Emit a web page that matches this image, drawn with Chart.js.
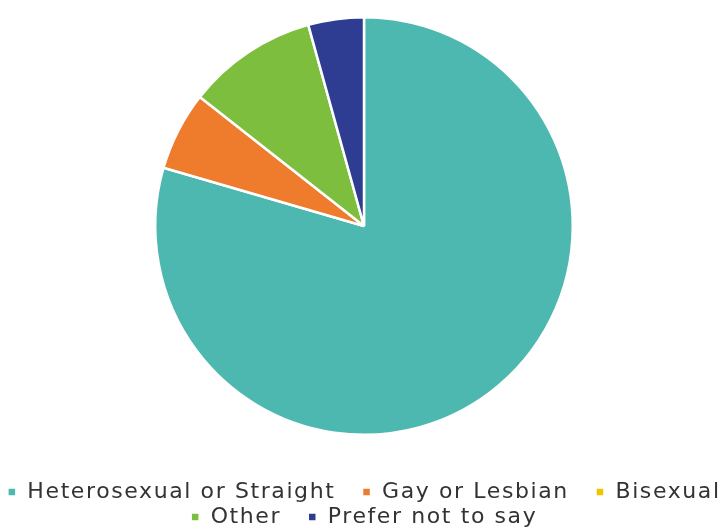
<!DOCTYPE html>
<html>
<head>
<meta charset="utf-8">
<script src="https://cdn.jsdelivr.net/npm/chart.js@4"></script>
<style>
  html, body { margin: 0; padding: 0; background: #fff; overflow: hidden; }
  #wrap { width: 728px; height: 538px; }
</style>
</head>
<body>
<div id="wrap"><canvas id="pie"></canvas></div>
<script>
const labels = ['Heterosexual or Straight', 'Gay or Lesbian', 'Bisexual', 'Other', 'Prefer not to say'];
const shares = [79.5, 6.1, 0, 10.1, 4.3];
const sliceColors = ['#4db8b0', '#ef7b2d', '#f2c400', '#7dbe3f', '#2e3d92'];
// legend entries that close a row get no trailing gap
const rowEnds = ['Bisexual', 'Prefer not to say'];

// wider tracking for the legend text, set before measuring and before drawing
const tracking = {
  id: 'tracking',
  beforeLayout(chart) { chart.ctx.letterSpacing = '1.6px'; },
  beforeDraw(chart) { chart.ctx.letterSpacing = '1.6px'; }
};

new Chart(document.getElementById('pie'), {
  type: 'pie',
  data: {
    labels: labels,
    datasets: [{
      data: shares,
      backgroundColor: sliceColors,
      borderColor: '#ffffff',
      borderWidth: 2.5
    }]
  },
  options: {
    responsive: true, maintainAspectRatio: false,
    animation: false,
    layout: { padding: { top: 16, bottom: 0 } },
    plugins: {
      tooltip: { enabled: false },
      legend: {
        display: true, position: 'bottom',
        // blank title opens the gap between pie and legend rows
        title: { display: true, text: ' ', font: { size: 10 }, padding: { top: 30, bottom: 0 } },
        labels: {
          color: '#333',
          font: { family: 'DejaVu Sans', size: 22 },
          boxWidth: 9, boxHeight: 9,
          padding: 3,
          generateLabels(chart) {
            const items = Chart.overrides.pie.plugins.legend.labels.generateLabels(chart);
            items.forEach(it => {
              if (!rowEnds.includes(it.text)) it.text = it.text + '\u2003';
            });
            return items;
          }
        }
      }
    }
  },
  plugins: [tracking]
});
</script>
</body>
</html>
